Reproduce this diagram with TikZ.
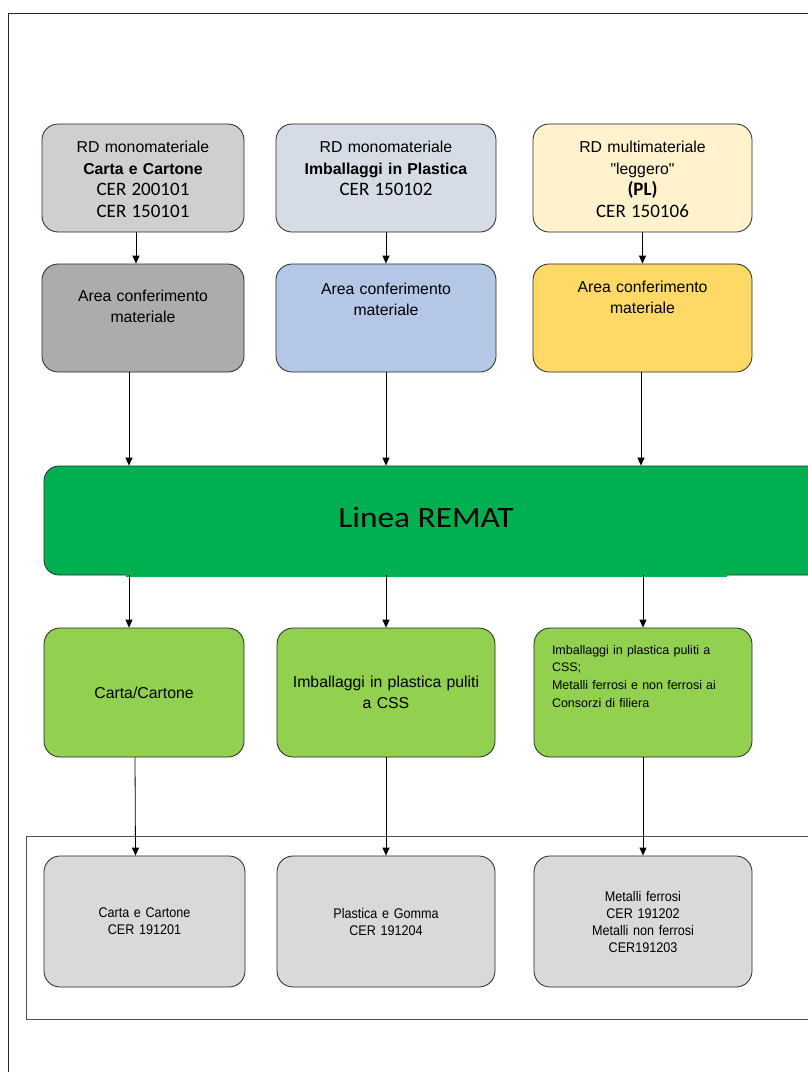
\documentclass[tikz,border=0pt]{standalone}
\usepackage{fontspec}
\setmainfont{Liberation Sans}[Ligatures=TeXOff]
\newfontfamily\calibfont{Carlito}
\newfontfamily\rematfont[FakeStretch=1.13]{Carlito}
\newfontfamily\narrowfont[FakeStretch=0.9]{Liberation Sans}
\usetikzlibrary{arrows.meta,calc}
\definecolor{edgedark}{HTML}{262626}
\definecolor{rdgray}{HTML}{D0CECE}
\definecolor{rdblue}{HTML}{D6DCE5}
\definecolor{rdyellow}{HTML}{FFF2CC}
\definecolor{argray}{HTML}{AEABAB}
\definecolor{arblue}{HTML}{B4C7E7}
\definecolor{aryellow}{HTML}{FFD966}
\definecolor{rematgreen}{HTML}{00B050}
\definecolor{outgreen}{HTML}{92D050}
\definecolor{cergray}{HTML}{D9D9D9}
\newcommand{\bigtxt}{\fontsize{15.8}{21.5}\selectfont}
\newcommand{\smalltxt}{\fontsize{12.5}{17.7}\selectfont}
\newcommand{\certxt}{\narrowfont\fontsize{14}{17}\selectfont}
\newcommand{\cer}[1]{{\calibfont\fontsize{19}{21.5}\selectfont #1}}

\begin{document}
\begin{tikzpicture}[x=1pt, y=-1pt,
  rbox/.style={draw=edgedark, line width=0.8pt, rounded corners=16pt, inner sep=0pt, align=center},
  arr/.style={-{Triangle[length=8pt,width=7pt]}, line width=0.8pt, black},
  frame/.style={draw=edgedark, line width=1pt},
]
\useasboundingbox (0,0) rectangle (807,1072);
% outer frame and lower panel
\draw[frame] (820,13) -- (8,13) -- (8,1080);
\draw[frame, draw=edgedark!80] (820,836) -- (26,836) -- (26,1019) -- (820,1019);

% input boxes
\node[rbox, fill=rdgray, text width=202pt, text height=28.5pt, text depth=79.5pt, font=\bigtxt] (rd1) at (143,178)
  {RD monomateriale\\\textbf{Carta e Cartone}\\\cer{CER 200101}\\\cer{CER 150101}};
\node[rbox, fill=rdblue, text width=220pt, text height=28.5pt, text depth=79.5pt, font=\bigtxt] (rd2) at (386,178)
  {RD monomateriale\\\textbf{Imballaggi in Plastica}\\\cer{CER 150102}};
\node[rbox, fill=rdyellow, text width=219pt, text height=28.5pt, text depth=79.5pt, font=\bigtxt] (rd3) at (642.5,178)
  {RD multimateriale\\"leggero"\\\cer{\bfseries(PL)}\\\cer{CER 150106}};

% delivery areas
\foreach \i/\xc/\boxw/\col/\toph/\topd in {1/143/202/argray/37pt/71pt, 2/386/220/arblue/30pt/78pt, 3/642.5/219/aryellow/28pt/80pt} {
  \node[rbox, fill=\col, text width=\boxw pt, text height=\toph, text depth=\topd, font=\bigtxt] (area\i) at (\xc,318)
    {Area conferimento\\materiale};
}

% REMAT line
\node[rbox, fill=rematgreen, rounded corners=15pt, minimum width=800pt, minimum height=109pt] (bar) at (444,520.5) {};
\fill[rematgreen] (126,570) rectangle (727,577);
\node[font=\rematfont\fontsize{29.5}{30}\selectfont, anchor=base, inner sep=0pt] (barlabel) at (426,527) {Linea REMAT};

% outputs
\node[rbox, fill=outgreen, text width=200pt, minimum height=129pt, font=\bigtxt] (out1) at (144,692.5) {Carta/Cartone};
\node[rbox, fill=outgreen, text width=218pt, minimum height=129pt, font=\bigtxt] (out2) at (386,692.5)
  {Imballaggi in plastica puliti\\a CSS};
\node[rbox, fill=outgreen, align=left, inner xsep=18pt, text width=182pt, text height=26pt, text depth=103pt, font=\smalltxt] (out3) at (643,692.5)
  {Imballaggi in plastica puliti a\\CSS;\\Metalli ferrosi e non ferrosi ai\\Consorzi di filiera};

% CER codes
\node[rbox, fill=cergray, text width=201pt, minimum height=131pt, font=\certxt] (cer1) at (144.5,921.5)
  {Carta e Cartone\\CER 191201};
\node[rbox, fill=cergray, text width=218pt, minimum height=131pt, font=\certxt] (cer2) at (386,921.5)
  {Plastica e Gomma\\CER 191204};
\node[rbox, fill=cergray, text width=218pt, minimum height=131pt, font=\certxt] (cer3) at (643,921.5)
  {Metalli ferrosi\\CER 191202\\Metalli non ferrosi\\CER191203};

% connectors
\foreach \i/\da/\db/\dc/\dd in {1/-7/-14/-15/-9, 2/0/0/0/0, 3/0/-1.5/0/0} {
  \draw[arr] ($(rd\i.south)+(\da,0)$) -- ($(area\i.north)+(\da,0)$);
  \draw[arr] ($(area\i.south)+(\db,0)$) coordinate (p\i) -- (p\i |- bar.north);
  \coordinate (q\i) at ($(out\i.north)+(\dc,0)$);
  \draw[arr] (q\i |- bar.south) -- (q\i);
  \draw[arr] ($(out\i.south)+(\dd,0)$) -- ($(cer\i.north)+(\dd,0)$);
}
\end{tikzpicture}
\end{document}
